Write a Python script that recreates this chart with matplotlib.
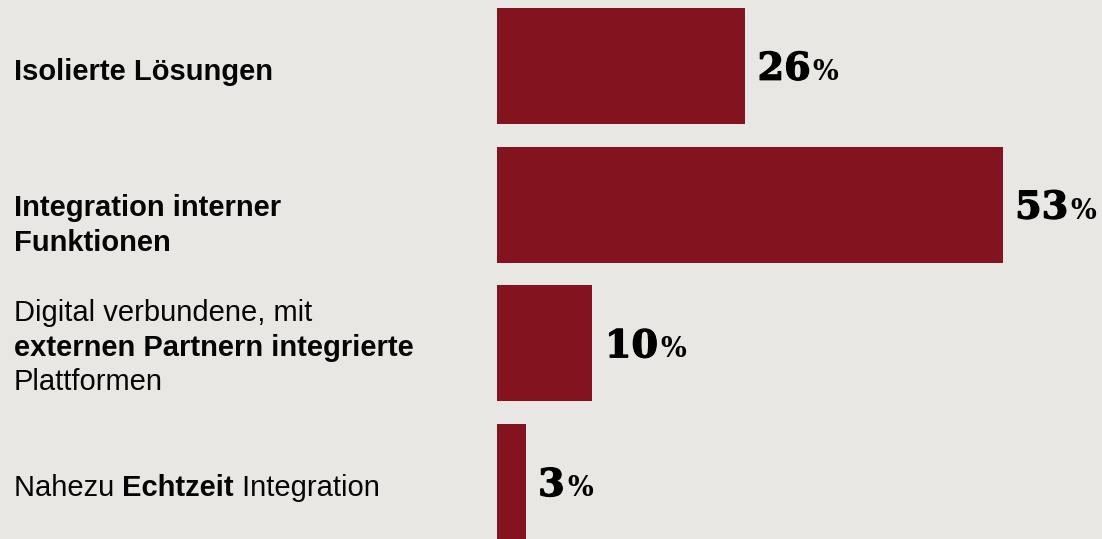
import numpy as np
import matplotlib.pyplot as plt
import matplotlib.patheffects as pe

# Chart data
categories = [
    [[("Isolierte Lösungen", "bold")]],
    [[("Integration interner", "bold")], [("Funktionen", "bold")]],
    [[("Digital verbundene, mit", "normal")],
     [("externen Partnern integrierte", "bold")],
     [("Plattformen", "normal")]],
    [[("Nahezu ", "normal"), ("Echtzeit", "bold"), (" Integration", "normal")]],
]
values = [26, 53, 10, 3]

# Baseline of the first line of each label, in points relative to the bar centre
firstLineOffsets = [-10.0, -8.4, 16.0, -10.0]
lineStep = 24.8

BG = "#E9E7E3"
BAR = "#83141F"

fig = plt.figure(figsize=(11.02, 5.39), dpi=100)
fig.patch.set_facecolor(BG)
ax = fig.add_axes([0, 0, 1, 1])
ax.set_facecolor(BG)

yPositions = np.arange(len(values))
ax.barh(yPositions, values, height=0.835, color=BAR, linewidth=0)

pxPerUnit = 9.54
ax.set_xlim(-497 / pxPerUnit, 605 / pxPerUnit)
ax.set_ylim(3 + 57 / 139, -66 / 139)
ax.axis("off")

labelFont = "Liberation Sans"
labelSize = 21

# Category labels with mixed bold / regular segments
for y, lines, firstOffset in zip(yPositions, categories, firstLineOffsets):
    for lineIndex, segments in enumerate(lines):
        dy = firstOffset - lineIndex * lineStep
        prev = None
        for text, weight in segments:
            if prev is None:
                prev = ax.annotate(text, xy=(0.0127, y), xycoords=("axes fraction", "data"),
                                   xytext=(0, dy), textcoords="offset points",
                                   ha="left", va="baseline", fontsize=labelSize,
                                   fontweight=weight, family=labelFont, color="#050505")
            else:
                prev = ax.annotate(text, xy=(1, y), xycoords=(prev, "data"),
                                   xytext=(0, dy), textcoords="offset points",
                                   ha="left", va="baseline", fontsize=labelSize,
                                   fontweight=weight, family=labelFont, color="#050505")

# Value labels: big serif number plus smaller percent sign
heavy = [pe.withStroke(linewidth=0.9, foreground="black")]
for y, v in zip(yPositions, values):
    num = ax.annotate(str(v), xy=(v, y), xycoords="data",
                      xytext=(9, -10), textcoords="offset points",
                      ha="left", va="baseline", fontsize=27.5, fontweight="bold",
                      family="DejaVu Serif", color="black", path_effects=heavy)
    ax.annotate("%", xy=(1, y), xycoords=(num, "data"),
                xytext=(1.5, -10), textcoords="offset points",
                ha="left", va="baseline", fontsize=19.5, fontweight="bold",
                family="DejaVu Serif", color="black")

fig.savefig("out.png", dpi=100, facecolor=BG)
